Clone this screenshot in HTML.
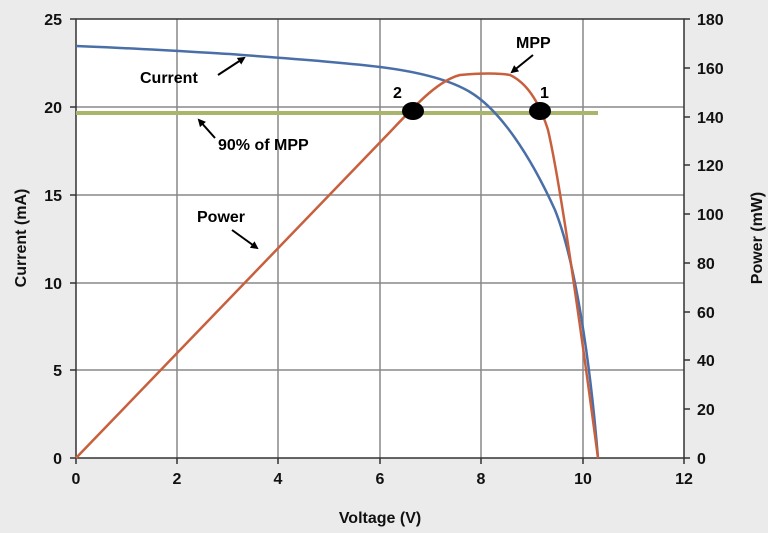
<!DOCTYPE html>
<html><head><style>
body{margin:0;background:#ebebeb;}
svg{display:block;font-family:"Liberation Sans",Arial,sans-serif;font-weight:bold;}
</style></head><body>
<svg width="768" height="533" viewBox="0 0 768 533">
<defs><marker id="ah" markerWidth="8" markerHeight="8" refX="6" refY="4" orient="auto" markerUnits="userSpaceOnUse"><path d="M0,0 L8,4 L0,8 Z" fill="#000"/></marker></defs>
<rect x="0" y="0" width="768" height="533" fill="#ebebeb"/>
<rect x="76" y="19" width="608" height="439" fill="#fff"/>
<g stroke="#888" stroke-width="1.5">
<line x1="177" y1="19" x2="177" y2="458"/><line x1="278" y1="19" x2="278" y2="458"/>
<line x1="380" y1="19" x2="380" y2="458"/><line x1="481" y1="19" x2="481" y2="458"/>
<line x1="583" y1="19" x2="583" y2="458"/>
<line x1="76" y1="107" x2="684" y2="107"/><line x1="76" y1="195" x2="684" y2="195"/>
<line x1="76" y1="283" x2="684" y2="283"/><line x1="76" y1="370" x2="684" y2="370"/>
</g>
<g stroke="#333" stroke-width="1.5" fill="none">
<rect x="76" y="19" width="608" height="439"/>
<path d="M70,19H76M70,107H76M70,195H76M70,283H76M70,370H76M70,458H76"/>
<path d="M684,19H690M684,68H690M684,117H690M684,165H690M684,214H690M684,263H690M684,312H690M684,360H690M684,409H690M684,458H690"/>
<path d="M76,458V464M177,458V464M278,458V464M380,458V464M481,458V464M583,458V464M684,458V464"/>
</g>
<line x1="76" y1="113" x2="598" y2="113" stroke="#a8b56a" stroke-width="4"/>
<path d="M76,46 C130,48 177,51 230,54 C280,58 330,61 380,67 C420,72 450,80 470,92 C500,110 530,155 555,210 C575,260 590,360 598,458" stroke="#4a6fa8" stroke-width="2.5" fill="none"/>
<path d="M76,458 L390,132 C420,100 440,80 460,75 C480,73 500,73 510,75 C525,82 538,98 548,130 C562,190 585,360 598,458" stroke="#c8603e" stroke-width="2.5" fill="none"/>
<ellipse cx="413" cy="111" rx="11" ry="9" fill="#000"/>
<ellipse cx="540" cy="111" rx="11" ry="9" fill="#000"/>
<g font-size="16" fill="#000">
<text x="393" y="98">2</text><text x="540" y="98">1</text>
<text x="516" y="48">MPP</text>
<text x="140" y="83">Current</text>
<text x="218" y="150">90% of MPP</text>
<text x="197" y="222">Power</text>
</g>
<g stroke="#000" stroke-width="2" fill="none" marker-end="url(#ah)">
<line x1="218" y1="75" x2="244" y2="58"/>
<line x1="215" y1="138" x2="199" y2="120"/>
<line x1="232" y1="230" x2="257" y2="248"/>
<line x1="533" y1="55" x2="512" y2="72"/>
</g>
<g font-size="16" fill="#111" text-anchor="end">
<text x="62" y="25">25</text><text x="62" y="113">20</text><text x="62" y="201">15</text>
<text x="62" y="289">10</text><text x="62" y="376">5</text><text x="62" y="464">0</text>
</g>
<g font-size="16" fill="#111">
<text x="697" y="25">180</text><text x="697" y="74">160</text><text x="697" y="123">140</text>
<text x="697" y="171">120</text><text x="697" y="220">100</text><text x="697" y="269">80</text>
<text x="697" y="318">60</text><text x="697" y="366">40</text><text x="697" y="415">20</text>
<text x="697" y="464">0</text>
</g>
<g font-size="16" fill="#111" text-anchor="middle">
<text x="76" y="484">0</text><text x="177" y="484">2</text><text x="278" y="484">4</text>
<text x="380" y="484">6</text><text x="481" y="484">8</text><text x="583" y="484">10</text>
<text x="684" y="484">12</text>
<text x="380" y="523">Voltage (V)</text>
<text transform="translate(26,238) rotate(-90)">Current (mA)</text>
<text transform="translate(762,238) rotate(-90)">Power (mW)</text>
</g>
</svg>
</body></html>
